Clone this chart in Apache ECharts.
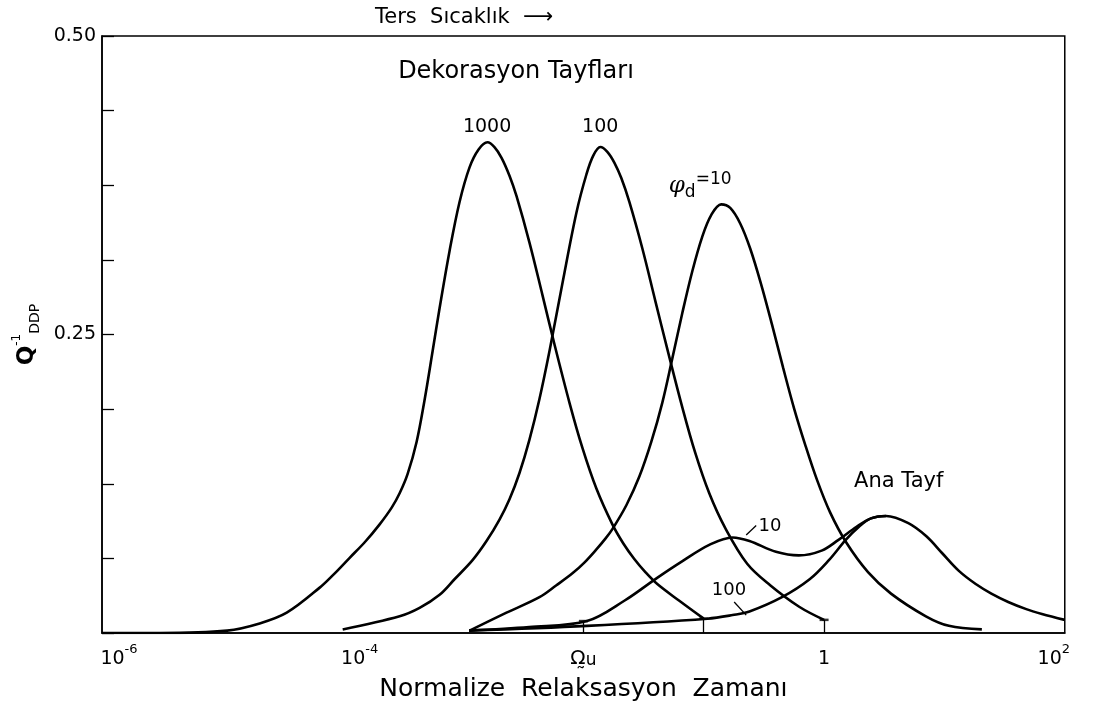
<!DOCTYPE html>
<html>
<head>
<meta charset="utf-8">
<script src="https://cdn.jsdelivr.net/npm/echarts@6/dist/echarts.min.js"></script>
<style>
html,body{margin:0;padding:0;background:#fff;}
#chart{width:1095px;height:715px;}
</style>
</head>
<body>
<div id="chart"></div>
<script>
// ---- data (x given as log10 of normalized relaxation time) ----
const decor1000Exp = [-6.0,-5.52,-4.96,-4.69,-4.465,-4.191,-4.066,-3.942,-3.817,-3.693,-3.593,-3.527,-3.461,-3.386,-3.320,-3.253,-3.195,-3.112,-3.029,-2.946,-2.871,-2.797,-2.739,-2.680,-2.614,-2.556,-2.448,-2.340,-2.241,-2.116,-2.008,-1.892,-1.759,-1.668,-1.577,-1.485,-1.386,-1.203,-1.0];
const decor1000Val = [0,0,0.002,0.008,0.017,0.038,0.050,0.063,0.076,0.091,0.105,0.117,0.133,0.160,0.195,0.236,0.272,0.320,0.361,0.390,0.405,0.411,0.407,0.398,0.383,0.366,0.327,0.283,0.242,0.193,0.155,0.121,0.091,0.075,0.062,0.051,0.041,0.027,0.012];

const decor100Exp = [-4.0,-3.527,-3.361,-3.195,-3.071,-2.921,-2.805,-2.697,-2.614,-2.531,-2.448,-2.365,-2.282,-2.174,-2.058,-1.975,-1.917,-1.859,-1.801,-1.743,-1.685,-1.618,-1.510,-1.402,-1.303,-1.178,-1.071,-0.954,-0.822,-0.639,-0.448,-0.207,0.0];
const decor100Val = [0.003,0.014,0.021,0.032,0.045,0.061,0.077,0.095,0.112,0.134,0.162,0.196,0.236,0.293,0.352,0.384,0.400,0.407,0.403,0.394,0.381,0.361,0.322,0.278,0.238,0.189,0.151,0.117,0.088,0.058,0.040,0.022,0.011];

const decor10Exp = [-2.946,-2.639,-2.365,-2.224,-2.091,-1.992,-1.892,-1.817,-1.759,-1.643,-1.535,-1.436,-1.344,-1.261,-1.178,-1.095,-1.012,-0.938,-0.855,-0.78,-0.697,-0.614,-0.523,-0.432,-0.34,-0.249,-0.158,-0.058,0.05,0.183,0.365,0.556,0.846,1.037,1.311];
const decor10Val = [0.002,0.017,0.030,0.040,0.050,0.059,0.070,0.079,0.087,0.107,0.131,0.160,0.193,0.230,0.268,0.303,0.332,0.350,0.359,0.356,0.343,0.322,0.292,0.258,0.222,0.188,0.158,0.128,0.101,0.076,0.051,0.033,0.014,0.006,0.003];

const main10Exp = [-2.95,-2.45,-1.97,-1.66,-1.39,-1.18,-0.95,-0.76,-0.62,-0.40,-0.21,-0.02,0.12,0.27,0.39,0.515,0.70,0.85,0.98,1.12,1.26,1.39,1.53,1.68,1.81,2.0];
const main10Val = [0.002,0.005,0.010,0.027,0.046,0.060,0.074,0.080,0.077,0.068,0.065,0.069,0.078,0.089,0.096,0.098,0.092,0.081,0.067,0.052,0.041,0.033,0.026,0.020,0.016,0.011];

const main100Exp = [-2.95,-1.97,-0.97,-0.76,-0.62,-0.35,-0.12,0.04,0.18,0.29,0.39,0.515];
const main100Val = [0.002,0.006,0.012,0.015,0.018,0.030,0.045,0.061,0.078,0.089,0.096,0.098];

// vertical marker ticks (T marks) standing on the axis
const tMarkExp = [-2, -1, 0];
const tMarkVal = [0.010, 0.012, 0.011];

// axis ticks / labels
const xLabelExp = [-6, -4, -2, 0, 2];
const xLabelText = ['{w|}{b|10}{s|-6}', '{w|}{b|10}{s|-4}', '{o|Ω̰}{u|u}', '{b|1}', '{b|10}{s|2}{e|}'];
const yLabelValues = [0.25, 0.5];
const yLabelTexts = ['0.25', '0.50'];

const FONT = 'DejaVu Sans';
const toXY = (ex, vals) => ex.map((e, i) => [Math.pow(10, e), vals[i]]);
const P = e => Math.pow(10, e);

const chart = echarts.init(document.getElementById('chart'));

const txt = (e, v, text, size, extra) => ({
  coord: [P(e), v], symbol: 'circle', symbolSize: 1,
  itemStyle: {color: 'rgba(0,0,0,0)'},
  label: Object.assign({show: true, position: 'inside', formatter: text, color: '#000',
    fontFamily: FONT, fontSize: size}, extra || {})
});

const lineStyle = {color: '#000', width: 2.6};
const curve = (name, ex, vals, extra) => Object.assign({
  name: name, type: 'line', data: toXY(ex, vals),
  showSymbol: false, symbol: 'none', smooth: 0.35, lineStyle: lineStyle
}, extra || {});

chart.setOption({
  animation: false,
  backgroundColor: '#fff',
  title: [
    {text: 'Ters  Sıcaklık  ⟶', left: 370, top: 2,
     textStyle: {fontFamily: FONT, fontSize: 21, fontWeight: 'normal', color: '#000'}}
  ],
  grid: {left: 102, right: 29, top: 36, bottom: 82, show: true,
         borderColor: '#000', borderWidth: 1.5, backgroundColor: 'transparent'},
  xAxis: {
    type: 'log', logBase: 10, min: 1e-6, max: 1e2, splitNumber: 8,
    name: 'Normalize  Relaksasyon  Zamanı', nameLocation: 'middle', nameGap: 44,
    nameTextStyle: {fontFamily: FONT, fontSize: 25, color: '#000'},
    axisLine: {show: true, lineStyle: {color: '#000', width: 1.5}},
    axisTick: {show: false},
    splitLine: {show: false},
    minorTick: {show: false},
    axisLabel: {
      margin: 10, color: '#000', fontFamily: FONT,
      formatter: function (v) {
        const e = Math.round(Math.log10(v));
        const i = xLabelExp.indexOf(e);
        return i >= 0 ? xLabelText[i] : '';
      },
      rich: {
        w: {width: 34, lineHeight: 26},
        e: {width: 22, lineHeight: 26},
        b: {fontFamily: FONT, fontSize: 19, lineHeight: 26, verticalAlign: 'bottom', color: '#000'},
        s: {fontFamily: FONT, fontSize: 13, lineHeight: 26, verticalAlign: 'top', color: '#000'},
        o: {fontFamily: FONT, fontSize: 20, lineHeight: 26, verticalAlign: 'bottom', color: '#000'},
        u: {fontFamily: FONT, fontSize: 17, lineHeight: 26, verticalAlign: 'bottom', color: '#000'}
      }
    }
  },
  yAxis: {
    type: 'value', min: 0, max: 0.5, interval: 0.0625,
    name: '{q|Q}{s|-1}{d|DDP}', nameLocation: 'middle', nameRotate: 90, nameGap: 56,
    nameTextStyle: {
      rich: {
        q: {fontFamily: FONT, fontSize: 23, fontWeight: 'bold', lineHeight: 32, verticalAlign: 'middle', color: '#000'},
        s: {fontFamily: FONT, fontSize: 12, lineHeight: 32, verticalAlign: 'top', color: '#000'},
        d: {fontFamily: FONT, fontSize: 14, lineHeight: 32, verticalAlign: 'bottom', color: '#000'}
      }
    },
    axisLine: {show: true, lineStyle: {color: '#000', width: 1.5}},
    axisTick: {show: true, inside: true, length: 12, lineStyle: {color: '#000', width: 1.3}},
    splitLine: {show: false},
    axisLabel: {
      margin: 6, color: '#000', fontFamily: FONT, fontSize: 19,
      formatter: function (v) {
        const i = yLabelValues.findIndex(t => Math.abs(t - v) < 1e-9);
        return i >= 0 ? yLabelTexts[i] : '';
      }
    }
  },
  series: [
    curve('Dekorasyon 1000', decor1000Exp, decor1000Val, {
     markPoint: {silent: true, data: [
       txt(-2.80, 0.424, '1000', 19),
       txt(-2.56, 0.470, 'Dekorasyon Tayfları', 24)
     ]}}),
    curve('Dekorasyon 100', decor100Exp, decor100Val, {
     markPoint: {silent: true, data: [txt(-1.86, 0.424, '100', 19)]}}),
    curve('Dekorasyon 10', decor10Exp, decor10Val, {
     markPoint: {silent: true, data: [
       txt(-1.03, 0.374, '{p|φ}{d|d}{t|=10}', 18, {rich: {
         p: {fontFamily: 'DejaVu Serif', fontStyle: 'italic', fontSize: 23, lineHeight: 30, verticalAlign: 'middle', color: '#000'},
         d: {fontFamily: FONT, fontSize: 17, lineHeight: 30, verticalAlign: 'bottom', color: '#000'},
         t: {fontFamily: FONT, fontSize: 17, lineHeight: 30, verticalAlign: 'top', color: '#000'}
       }})
     ]}}),
    curve('Ana Tayf 10', main10Exp, main10Val, {
     markPoint: {silent: true, data: [
       txt(0.62, 0.127, 'Ana Tayf', 21),
       txt(-0.45, 0.089, '10', 18)
     ]},
     markLine: {silent: true, symbol: ['none', 'none'], label: {show: false},
       lineStyle: {color: '#000', width: 1.3, type: 'solid'},
       data: [
         [{coord: [P(-0.647), 0.082]}, {coord: [P(-0.564), 0.090]}]
       ].concat(tMarkExp.map((e, i) => [{coord: [P(e), 0]}, {coord: [P(e), tMarkVal[i]]}]))
     }}),
    curve('Ana Tayf 100', main100Exp, main100Val, {
     markPoint: {silent: true, data: [txt(-0.79, 0.036, '100', 18)]},
     markLine: {silent: true, symbol: ['none', 'none'], label: {show: false},
       lineStyle: {color: '#000', width: 1.3, type: 'solid'},
       data: [[{coord: [P(-0.747), 0.026]}, {coord: [P(-0.647), 0.015]}]]
     }}),
    {name: 'T', type: 'scatter', data: toXY(tMarkExp, tMarkVal), symbol: 'rect',
     symbolSize: [9, 2.5], itemStyle: {color: '#000'}, silent: true}
  ]
});
</script>
</body>
</html>
